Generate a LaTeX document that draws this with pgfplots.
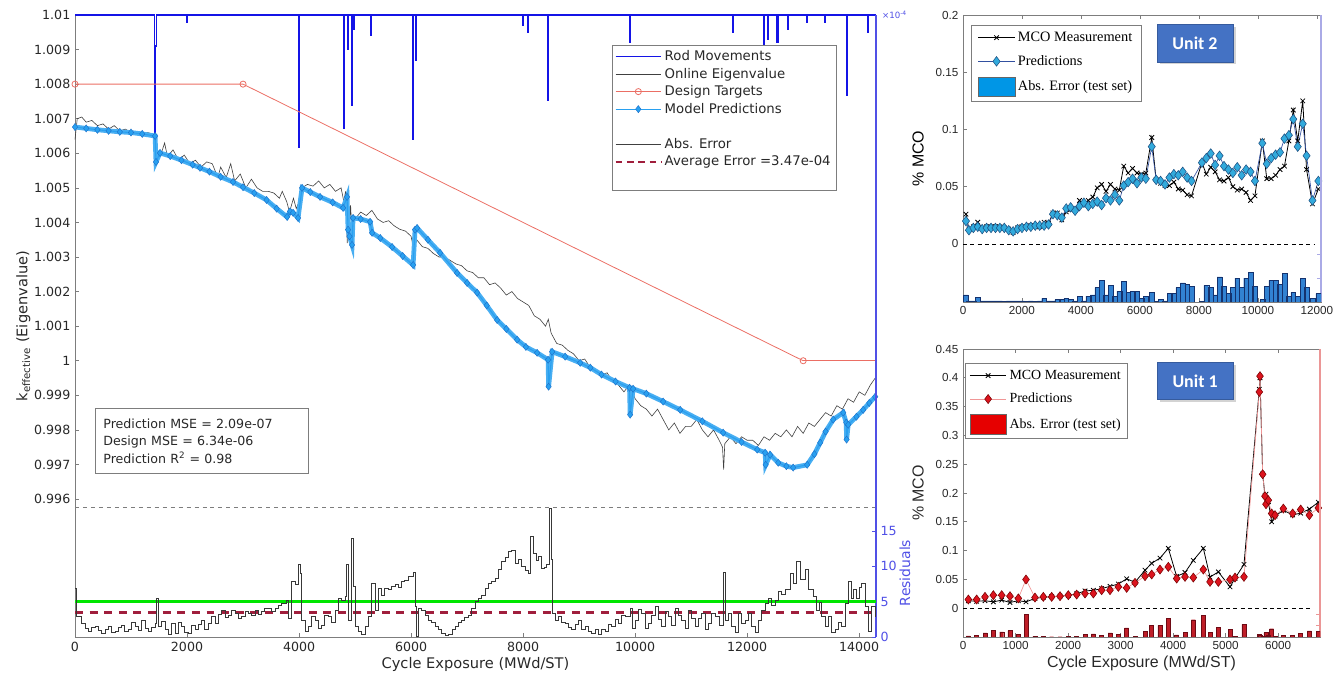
\documentclass[border=0pt]{standalone}
\usepackage{fontspec}
\setmainfont{DejaVu Sans}
\newfontfamily\arialf{Liberation Sans}
\newfontfamily\timesf{Liberation Serif}
\newfontfamily\calf{Carlito}
\usepackage{pgfplots}
\usepackage{pgfplotstable}
\pgfplotsset{compat=1.18}
\usetikzlibrary{shadows}

\definecolor{rodblue}{RGB}{20,20,230}
\definecolor{predblue}{RGB}{40,160,240}
\definecolor{predblueD}{RGB}{30,110,200}
\definecolor{designred}{RGB}{235,110,100}
\definecolor{avgred}{RGB}{160,30,60}
\definecolor{resgreen}{RGB}{0,230,0}
\definecolor{axgray}{RGB}{125,125,125}
\definecolor{tickgray}{RGB}{40,40,40}
\definecolor{resaxis}{RGB}{80,80,230}
\definecolor{unitbox}{RGB}{68,114,196}
\definecolor{u2pred}{RGB}{50,170,220}
\definecolor{u2predD}{RGB}{30,80,130}
\definecolor{u2line}{RGB}{50,80,160}
\definecolor{u2bar}{RGB}{50,130,210}
\definecolor{u2barD}{RGB}{20,50,110}
\definecolor{u2leg}{RGB}{0,150,230}
\definecolor{u2axis}{RGB}{170,170,230}
\definecolor{u1pred}{RGB}{220,20,30}
\definecolor{u1predD}{RGB}{120,0,0}
\definecolor{u1line}{RGB}{240,150,150}
\definecolor{u1bar}{RGB}{190,30,40}
\definecolor{u1barD}{RGB}{110,10,20}
\definecolor{u1leg}{RGB}{230,0,0}
\definecolor{u1axis}{RGB}{235,150,150}

\pgfplotsset{
  bigarea/.style={legend image code/.code={\draw[##1] (0cm,-0.26cm) rectangle (0.97cm,0.26cm);}},
}

\pgfplotstableread{
x m p e
100 0.026 0.020 0.006
200 0.013 0.012 0.001
350 0.015 0.014 0.001
500 0.019 0.015 0.004
650 0.014 0.013 0.001
800 0.015 0.014 0.001
950 0.015 0.014 0.001
1100 0.015 0.014 0.001
1250 0.015 0.014 0.001
1400 0.014 0.014 0.0005
1550 0.013 0.012 0.001
1700 0.010 0.011 0.001
1850 0.014 0.013 0.001
2000 0.015 0.014 0.001
2150 0.015 0.015 0.0005
2300 0.016 0.015 0.001
2450 0.016 0.016 0.0005
2600 0.015 0.016 0.001
2750 0.019 0.016 0.003
2900 0.018 0.017 0.001
3050 0.027 0.026 0.001
3200 0.027 0.025 0.002
3350 0.021 0.023 0.002
3500 0.028 0.031 0.003
3650 0.030 0.032 0.002
3800 0.030 0.029 0.001
3950 0.038 0.033 0.005
4100 0.035 0.036 0.001
4250 0.038 0.033 0.005
4400 0.041 0.035 0.006
4550 0.049 0.037 0.012
4700 0.052 0.034 0.018
4850 0.046 0.040 0.006
5000 0.052 0.038 0.014
5150 0.048 0.043 0.005
5300 0.047 0.038 0.009
5450 0.068 0.051 0.017
5600 0.062 0.054 0.008
5750 0.066 0.057 0.009
5900 0.062 0.053 0.009
6050 0.061 0.058 0.003
6200 0.062 0.057 0.005
6400 0.093 0.085 0.008
6550 0.056 0.056 0.0005
6700 0.053 0.055 0.002
6850 0.051 0.052 0.001
7000 0.051 0.058 0.007
7150 0.054 0.061 0.007
7300 0.048 0.060 0.012
7450 0.047 0.063 0.016
7600 0.043 0.058 0.015
7750 0.042 0.055 0.013
8100 0.071 0.071 0.0005
8250 0.061 0.075 0.014
8400 0.067 0.079 0.012
8550 0.063 0.069 0.006
8700 0.056 0.077 0.021
8850 0.055 0.068 0.013
9000 0.058 0.065 0.007
9150 0.050 0.062 0.012
9300 0.047 0.067 0.020
9450 0.048 0.060 0.012
9600 0.045 0.065 0.020
9750 0.038 0.063 0.025
9900 0.042 0.055 0.013
10150 0.090 0.088 0.002
10300 0.057 0.070 0.013
10450 0.057 0.075 0.018
10600 0.060 0.078 0.018
10750 0.065 0.080 0.015
10900 0.068 0.092 0.024
11050 0.090 0.095 0.005
11200 0.117 0.109 0.008
11350 0.090 0.085 0.005
11520 0.125 0.105 0.020
11650 0.065 0.077 0.012
11850 0.035 0.038 0.003
12050 0.048 0.055 0.007
}\unittwo

\pgfplotstableread{
x m p e
102 0.013 0.0151 0.002
260 0.012 0.0151 0.003
419 0.013 0.0197 0.007
578 0.011 0.0226 0.012
737 0.014 0.0226 0.009
895 0.010 0.0208 0.011
1054 0.013 0.0170 0.004
1200 0.011 0.0498 0.039
1371 0.017 0.0185 0.0015
1530 0.019 0.0197 0.001
1689 0.020 0.0197 0.0005
1848 0.021 0.0208 0.0005
2006 0.022 0.0226 0.001
2165 0.025 0.0237 0.0015
2324 0.030 0.0255 0.0045
2483 0.031 0.0255 0.0055
2641 0.034 0.0313 0.003
2800 0.038 0.0313 0.007
2959 0.042 0.0371 0.005
3117 0.051 0.0353 0.016
3276 0.045 0.0440 0.001
3467 0.066 0.0556 0.010
3594 0.078 0.0585 0.020
3752 0.087 0.0671 0.020
3911 0.104 0.0718 0.032
4070 0.055 0.0515 0.0035
4229 0.062 0.0544 0.0076
4387 0.083 0.0532 0.030
4578 0.104 0.0671 0.037
4705 0.054 0.0457 0.008
4864 0.063 0.0457 0.017
5086 0.037 0.0498 0.013
5181 0.052 0.0532 0.001
5352 0.076 0.0544 0.022
5644 0.380 0.3755 0.0045
5657 0.400 0.4028 0.003
5708 0.233 0.2326 0.0005
5752 0.195 0.1944 0.0006
5771 0.198 0.1805 0.0075
5816 0.185 0.1875 0.0025
5879 0.150 0.1644 0.0144
5943 0.160 0.1615 0.0015
6102 0.170 0.1730 0.003
6279 0.162 0.1644 0.0024
6432 0.165 0.1713 0.0063
6597 0.172 0.1615 0.0105
6768 0.184 0.1741 0.0099
}\unitone

\pgfplotstableread{
x y
0 1.00676
200 1.00672
400 1.00668
600 1.00665
800 1.00662
1000 1.00660
1200 1.00656
1430 1.00650
1446 1.00575
1518 1.00601
1700 1.00592
1900 1.00580
2100 1.00567
2232 1.00558
2400 1.00547
2600 1.00532
2821 1.00517
3000 1.00502
3200 1.00485
3420 1.00465
3600 1.00440
3786 1.00416
3840 1.00432
3893 1.00428
3982 1.00413
4054 1.00500
4200 1.00488
4375 1.00474
4600 1.00458
4786 1.00442
4857 1.00474
4875 1.00379
4900 1.00360
4946 1.00335
4964 1.00413
5100 1.00410
5268 1.00402
5304 1.00370
5450 1.00355
5661 1.00329
5850 1.00303
6036 1.00277
6071 1.00379
6107 1.00384
6300 1.00350
6518 1.00312
6821 1.00254
7000 1.00225
7179 1.00197
7350 1.00160
7536 1.00118
7700 1.00092
7893 1.00061
8050 1.00040
8250 1.00023
8446 1.00003
8455 0.99925
8518 1.00026
8750 1.00012
9018 0.99994
9200 0.99980
9400 0.99960
9650 0.99940
9900 0.99922
9911 0.99844
9964 0.99919
10200 0.99905
10500 0.99882
10804 0.99858
11200 0.99825
11571 0.99792
11900 0.99765
12179 0.99743
12321 0.99734
12330 0.99699
12411 0.99728
12554 0.99705
12700 0.99695
12821 0.99691
13071 0.99699
13200 0.99730
13304 0.99763
13400 0.99795
13536 0.99830
13714 0.99850
13768 0.99821
13775 0.99772
13804 0.99815
13950 0.99838
14071 0.99858
14180 0.99878
14286 0.99896
}\predtab

\begin{document}
\begin{tikzpicture}
\path[use as bounding box] (0,0) rectangle (1005.75bp,511.5bp);

% ================= LEFT MAIN AXIS =================
\begin{axis}[
  at={(56.25bp,33.75bp)}, anchor=south west,
  scale only axis, width=600.75bp, height=466.5bp,
  xmin=0, xmax=14300, ymin=0.99201, ymax=1.01,
  clip=false,
  axis x line*=bottom, axis y line*=left,
  axis line style={axgray, line width=0.6pt},
  tick style={axgray, line width=0.5pt}, tick align=inside, major tick length=3bp,
  xtick={0,2000,4000,6000,8000,10000,12000,14000},
  ytick={0.996,0.997,0.998,0.999,1,1.001,1.002,1.003,1.004,1.005,1.006,1.007,1.008,1.009,1.01},
  scaled x ticks=false, scaled y ticks=false,
  xticklabel style={/pgf/number format/.cd, fixed, set thousands separator={}},
  yticklabel style={/pgf/number format/.cd, fixed, precision=3},
  /pgf/number format/assume math mode=true,
  ticklabel style={font=\fontsize{9.5}{11}\selectfont, text=tickgray},
  xlabel={Cycle Exposure (MWd/ST)},
  ylabel={k\textsubscript{effective} (Eigenvalue)},
  label style={font=\fontsize{11}{13}\selectfont, text=tickgray},
  xlabel style={yshift=2bp},
  ylabel style={yshift=-4bp},
  legend style={at={(0.670,0.952)}, anchor=north west, draw=axgray, fill=white,
    font=\fontsize{10}{11}\selectfont, text=tickgray, inner xsep=2pt, inner ysep=2pt,
    row sep=0pt},
  legend cell align=left,
  legend image code/.code={\draw[mark repeat=2,mark phase=2,#1] plot coordinates {(0cm,0cm) (0.6cm,0cm) (1.2cm,0cm)};},
]
% separator
\addplot[axgray, dashed, line width=0.5pt, forget plot] coordinates {(0,0.99577) (14300,0.99577)};

% Rod movements
\addplot[rodblue, line width=1.1pt] coordinates {
(0,1.01) (1420,1.01) (1420,1.0065) (1435,1.0065) (1435,1.0091) (1455,1.0091) (1455,1.01)
(2000,1.01) (2000,1.0098) (2010,1.0098) (2010,1.01)
(3995,1.01) (3995,1.00616) (4010,1.00616) (4010,1.01)
(4800,1.01) (4800,1.00673) (4815,1.00673) (4815,1.01)
(4860,1.01) (4860,1.0090) (4870,1.0090) (4870,1.01)
(4940,1.01) (4940,1.0074) (4955,1.0074) (4955,1.01)
(4980,1.01) (4980,1.0096) (4990,1.0096) (4990,1.01)
(5280,1.01) (5280,1.0094) (5295,1.0094) (5295,1.01)
(6030,1.01) (6030,1.00641) (6045,1.00641) (6045,1.01)
(6075,1.01) (6075,1.0087) (6085,1.0087) (6085,1.01)
(8000,1.01) (8000,1.0097) (8008,1.0097) (8008,1.01)
(8085,1.01) (8085,1.0095) (8100,1.0095) (8100,1.01)
(8440,1.01) (8440,1.00754) (8455,1.00754) (8455,1.01)
(9905,1.01) (9905,1.0092) (9920,1.0092) (9920,1.01)
(11745,1.01) (11745,1.0095) (11760,1.0095) (11760,1.01)
(12290,1.01) (12290,1.0091) (12300,1.0091) (12300,1.01)
(12360,1.01) (12360,1.0093) (12370,1.0093) (12370,1.01)
(12530,1.01) (12530,1.0092) (12550,1.0092) (12550,1.01)
(12730,1.01) (12730,1.0096) (12740,1.0096) (12740,1.01)
(13065,1.01) (13065,1.0098) (13080,1.0098) (13080,1.01)
(13385,1.01) (13385,1.0098) (13400,1.0098) (13400,1.01)
(13780,1.01) (13780,1.00768) (13795,1.00768) (13795,1.01)
(14155,1.01) (14155,1.0095) (14170,1.0095) (14170,1.01)
(14300,1.01)
};
\addlegendentry{\strut Rod Movements}

% Online eigenvalue
\addplot[black!75, line width=0.45pt] coordinates {
(0,1.0064)(40,1.0070)(120,1.00705)(200,1.0069)(300,1.00695)(400,1.0068)(500,1.00685)(600,1.0067)(700,1.0068)(800,1.00665)(900,1.0067)(1000,1.0066)(1100,1.0066)(1200,1.00655)(1300,1.0066)(1400,1.00655)(1430,1.0065)(1450,1.0062)(1480,1.0060)(1550,1.00605)(1600,1.0063)(1650,1.0059)(1750,1.0061)(1850,1.0058)(1950,1.00595)(2050,1.0057)(2150,1.0058)(2250,1.0056)(2350,1.00575)(2450,1.0057)(2550,1.0053)(2600,1.0056)(2700,1.0053)(2780,1.0057)(2850,1.0052)(2950,1.0054)(3050,1.0050)(3150,1.00525)(3250,1.0050)(3350,1.0049)(3450,1.0049)(3550,1.00485)(3650,1.0047)(3700,1.0049)(3780,1.0046)(3830,1.0043)(3900,1.0047)(3950,1.0044)(4000,1.0046)(4050,1.0050)(4150,1.0051)(4250,1.00505)(4350,1.0052)(4450,1.0050)(4550,1.0051)(4650,1.0049)(4750,1.0050)(4800,1.0046)(4830,1.0049)(4860,1.0034)(4880,1.0047)(4900,1.0038)(4920,1.0045)(4950,1.0035)(4970,1.0042)(5000,1.0041)(5100,1.0043)(5200,1.0042)(5300,1.00435)(5400,1.0041)(5500,1.0040)(5600,1.00405)(5700,1.0039)(5800,1.0038)(5900,1.00375)(6000,1.0036)(6050,1.0032)(6100,1.0035)(6200,1.0033)(6300,1.00325)(6400,1.0031)(6500,1.0030)(6600,1.0030)(6700,1.0029)(6800,1.0028)(6900,1.00275)(7000,1.0026)(7100,1.00255)(7200,1.0024)(7300,1.0024)(7400,1.0022)(7500,1.00225)(7600,1.0021)(7700,1.0019)(7800,1.0020)(7900,1.0018)(8000,1.0017)(8100,1.0016)(8200,1.0013)(8300,1.0012)(8400,1.0010)(8450,1.0012)(8500,1.0008)(8600,1.0005)(8700,1.00045)(8800,1.0003)(8900,1.0002)(9000,1.0000)(9100,1.00005)(9200,0.9998)(9300,0.99975)(9400,0.9996)(9500,0.99965)(9600,0.9994)(9700,0.9993)(9800,0.9991)(9900,0.9993)(10000,0.9989)(10100,0.9987)(10200,0.9986)(10300,0.9984)(10400,0.9986)(10500,0.9983)(10600,0.9980)(10700,0.9982)(10800,0.9979)(10900,0.9981)(11000,0.9981)(11100,0.9983)(11200,0.9980)(11300,0.9978)(11400,0.9980)(11500,0.9977)(11560,0.9975)(11580,0.99685)(11600,0.9976)(11700,0.9978)(11800,0.9976)(11900,0.9978)(12000,0.9977)(12100,0.9977)(12200,0.99755)(12300,0.9978)(12400,0.9977)(12500,0.9979)(12600,0.9978)(12700,0.9980)(12800,0.9978)(12900,0.9981)(13000,0.9979)(13100,0.9982)(13200,0.9981)(13300,0.9983)(13400,0.9985)(13500,0.9984)(13600,0.9987)(13700,0.9986)(13800,0.9989)(13900,0.9988)(14000,0.9991)(14100,0.9990)(14200,0.9993)(14286,0.9995)
};
\addlegendentry{\strut Online Eigenvalue}

% Design targets
\addplot[designred, line width=0.6pt, mark=o, mark size=2.3bp, mark options={line width=0.6pt}] coordinates {(0,1.008) (3000,1.008) (13000,1.0)};
\addlegendentry{\strut Design Targets}
\addplot[designred, line width=0.6pt, forget plot] coordinates {(13000,1.0) (14300,1.0)};

% Model predictions: band + markers
\addplot[predblue!85, line width=3.6pt, forget plot] table[x=x,y=y] {\predtab};
\addplot[predblue, line width=0.8pt, mark=diamond*, mark size=2.7bp, mark options={fill=predblue, draw=predblueD, line width=0.3pt}] table[x=x,y=y] {\predtab};
\addlegendentry{\strut Model Predictions}

\addlegendimage{empty legend}\addlegendentry{\strut}
\addlegendimage{black!75, line width=0.6pt}\addlegendentry{\strut Abs. Error}
\addlegendimage{avgred, line width=1.6pt, dash pattern=on 5pt off 3.5pt}\addlegendentry{\strut Average Error =3.47e-04}
\addlegendimage{empty legend}\addlegendentry{\strut}

\node[draw=axgray, fill=white, anchor=north west, align=left, line width=0.6pt,
  font=\fontsize{9.5}{13}\selectfont, text=tickgray, text width=148bp, inner xsep=6bp, inner ysep=4bp,
  minimum height=49bp] at (rel axis cs:0.025,0.368)
  {Prediction MSE = 2.09e-07\\Design MSE = 6.34e-06\\Prediction R\textsuperscript{2} = 0.98};
\end{axis}

% ================= RESIDUAL OVERLAY AXIS =================
\begin{axis}[
  at={(56.25bp,33.75bp)}, anchor=south west,
  scale only axis, width=600.75bp, height=466.5bp,
  xmin=0, xmax=14300, ymin=0, ymax=88,
  clip=false,
  axis x line=none, axis y line*=right,
  axis line style={resaxis, line width=0.8pt},
  tick style={resaxis, line width=0.5pt}, tick align=inside, major tick length=3bp,
  ytick={0,5,10,15},
  /pgf/number format/assume math mode=true,
  yticklabel style={font=\fontsize{9.5}{11}\selectfont, text=resaxis},
]
\addplot[resgreen, line width=2.1pt] coordinates {(0,5) (14300,5)};
\addplot[avgred, line width=1.6pt, dash pattern=on 6pt off 5pt] coordinates {(0,3.47) (14300,3.47)};
\addplot[const plot, black!78, line width=0.7pt] coordinates {
(0,6.9)(30,2.9)(119,1.9)(180,1.2)(238,0.75)(300,1.3)(357,1.5)(420,0.9)(476,0.5)(540,1.1)(595,1.5)(650,0.6)(714,0.75)(770,1.4)(833,1.7)(890,0.8)(952,1.0)(1010,2.0)(1071,1.5)(1130,0.9)(1190,2.4)(1250,1.2)(1310,0.75)(1370,1.4)(1429,1.9)(1458,5.5)(1488,1.5)(1550,2.2)(1607,1.0)(1660,0.4)(1726,1.9)(1786,0.5)(1840,2.0)(1905,1.5)(1960,0.7)(2024,0.5)(2080,1.6)(2143,1.0)(2200,1.8)(2262,2.4)(2320,1.0)(2381,1.9)(2440,2.9)(2500,1.9)(2560,3.2)(2619,3.8)(2680,2.7)(2738,3.1)(2800,3.7)(2857,3.3)(2920,2.6)(2976,2.9)(3040,3.6)(3095,3.3)(3150,3.0)(3214,3.8)(3270,3.2)(3333,3.6)(3390,4.0)(3452,4.1)(3510,3.6)(3571,4.1)(3630,4.4)(3690,4.8)(3780,5.2)(3810,2.6)(3869,7.8)(3929,7.4)(3988,10.2)(4018,9.0)(4048,2.4)(4110,0.8)(4167,1.5)(4230,2.9)(4286,2.4)(4340,1.2)(4405,1.7)(4460,3.0)(4524,2.9)(4580,2.0)(4643,3.8)(4702,5.5)(4762,5.2)(4821,5.7)(4851,10.2)(4881,2.4)(4929,14.0)(4970,7.1)(5000,1.5)(5060,0.8)(5119,0.3)(5180,1.5)(5238,2.9)(5298,7.6)(5357,3.8)(5417,6.9)(5476,5.9)(5530,6.9)(5595,6.7)(5650,7.2)(5714,7.4)(5770,7.0)(5833,7.8)(5890,8.0)(5952,8.5)(6042,9.2)(6071,4.3)(6101,0.05)(6131,4.1)(6190,3.8)(6250,3.0)(6310,2.4)(6370,2.0)(6429,1.5)(6490,1.0)(6548,0.5)(6610,0.2)(6667,0.3)(6730,1.0)(6786,1.5)(6850,2.0)(6905,2.4)(6960,2.8)(7024,3.1)(7080,4.0)(7143,5.0)(7200,5.5)(7262,5.9)(7320,6.9)(7381,7.6)(7440,7.9)(7500,8.3)(7560,9.5)(7619,10.7)(7680,11.2)(7738,12.1)(7798,12.3)(7857,10.4)(7920,10.9)(7976,10.0)(8040,9.4)(8095,9.0)(8125,14.2)(8185,11.8)(8230,10.8)(8274,11.4)(8333,9.7)(8380,9.9)(8423,10.2)(8464,18.2)(8500,10.9)(8524,3.3)(8580,2.4)(8631,2.9)(8690,2.0)(8750,1.9)(8810,1.4)(8869,1.0)(8930,1.8)(8988,2.4)(9050,1.0)(9107,1.5)(9170,0.8)(9226,0.5)(9290,1.0)(9345,0.3)(9400,1.0)(9464,0.75)(9520,1.8)(9583,1.5)(9640,2.5)(9702,1.9)(9760,3.0)(9821,2.9)(9911,4.1)(9960,1.2)(10000,2.4)(10060,3.9)(10119,3.3)(10180,1.2)(10238,1.9)(10300,3.0)(10357,4.3)(10420,2.5)(10476,1.5)(10540,3.6)(10595,2.9)(10650,1.6)(10714,4.1)(10770,3.0)(10833,2.4)(10890,1.2)(10952,3.8)(11010,2.6)(11071,1.5)(11130,2.6)(11190,3.3)(11250,1.0)(11309,1.9)(11370,3.4)(11428,2.9)(11500,1.6)(11577,9.2)(11607,2.4)(11670,3.3)(11726,1.5)(11790,0.6)(11845,3.3)(11900,1.9)(11964,2.4)(12020,3.4)(12083,1.5)(12140,0.6)(12202,2.4)(12260,3.8)(12321,4.8)(12381,5.5)(12440,4.4)(12500,5.2)(12559,6.4)(12620,6.0)(12678,6.7)(12768,9.0)(12827,7.6)(12887,10.7)(12946,8.1)(13036,9.5)(13095,6.7)(13184,5.7)(13244,3.8)(13290,4.9)(13333,2.9)(13393,1.5)(13452,2.9)(13510,0.6)(13571,1.0)(13630,2.0)(13690,1.5)(13750,4.8)(13809,7.8)(13860,5.5)(13899,6.7)(13958,5.5)(14000,7.0)(14047,7.6)(14107,4.3)(14166,0.75)(14226,4.3)(14285,2.9)(14300,2.9)
};
\node[anchor=west, text=resaxis, font=\fontsize{6.5}{7}\selectfont, xshift=1bp] at (rel axis cs:1,1) {×10\textsuperscript{-4}};
\node[rotate=90, text=resaxis, font=\fontsize{10.5}{12}\selectfont] at ([xshift=21.75bp]rel axis cs:1,0.103) {Residuals};
\end{axis}

% ================= UNIT 2 =================
\begin{axis}[
  at={(722.25bp,285bp)}, anchor=south west,
  scale only axis, width=268.5bp, height=215.25bp,
  xmin=0, xmax=12140, ymin=-0.0507, ymax=0.2,
  axis line style={axgray, line width=0.6pt},
  tick style={axgray, line width=0.5pt}, tick align=inside, major tick length=3bp,
  xtick={0,2000,4000,6000,8000,10000,12000}, ytick={0,0.05,0.1,0.15,0.2},
  ytick pos=left,
  scaled x ticks=false, scaled y ticks=false,
  xticklabel style={/pgf/number format/.cd, fixed, set thousands separator={}},
  yticklabel style={/pgf/number format/.cd, fixed, precision=2},
  /pgf/number format/assume math mode=true,
  ticklabel style={font=\arialf\fontsize{8.8}{10}\selectfont, text=tickgray},
  ylabel={\% MCO},
  ylabel style={font=\arialf\fontsize{12}{14}\selectfont, text=black, yshift=2bp},
  legend style={at={(0.022,0.965)}, anchor=north west, draw=axgray, fill=white,
    font=\timesf\fontsize{10.8}{12}\selectfont, inner xsep=5pt, inner ysep=3pt, row sep=5pt},
  legend cell align=left,
  legend image code/.code={\draw[mark repeat=2,mark phase=2,#1] plot coordinates {(0cm,0cm) (0.485cm,0cm) (0.97cm,0cm)};},
]
\addplot[black, dashed, line width=0.6pt, dash pattern=on 3pt off 2.5pt, forget plot] coordinates {(0,0) (11950,0)};
\addplot[black, line width=0.6pt, mark=x, mark size=2.4bp, mark options={line width=0.6pt}] table[x=x,y=m] {\unittwo};
\addlegendentry{MCO Measurement}
\addplot[u2line, line width=0.5pt, mark=diamond*, mark size=3.6bp, mark options={fill=u2pred, draw=u2predD, line width=0.4pt}] table[x=x,y=p] {\unittwo};
\addlegendentry{Predictions}
\addlegendimage{bigarea, fill=u2leg, draw=black!60}
\addlegendentry{Abs. Error (test set)}
\node[fill=unitbox, draw=unitbox!80!black, text=white, font=\calf\bfseries\fontsize{13.5}{15}\selectfont,
  minimum width=57bp, minimum height=28bp, drop shadow={opacity=0.35, shadow xshift=2pt, shadow yshift=-2pt}]
  at (rel axis cs:0.648,0.902) {Unit 2};
\end{axis}
\begin{axis}[
  at={(722.25bp,285bp)}, anchor=south west,
  scale only axis, width=268.5bp, height=215.25bp,
  xmin=0, xmax=12140, ymin=0, ymax=0.24,
  axis x line=none, axis y line*=right,
  axis line style={u2axis, line width=0.8pt},
  tick style={u2axis, line width=0.5pt}, tick align=inside, major tick length=3bp,
  ytick={0.02,0.04}, yticklabels={},
]
\addplot[ybar, bar width=3.6bp, fill=u2bar, draw=u2barD, line width=0.3pt] table[x=x,y=e] {\unittwo};
\end{axis}

% ================= UNIT 1 =================
\begin{axis}[
  at={(722.25bp,33.75bp)}, anchor=south west,
  scale only axis, width=267.75bp, height=216bp,
  xmin=0, xmax=6800, ymin=-0.05, ymax=0.45,
  axis line style={axgray, line width=0.6pt},
  tick style={axgray, line width=0.5pt}, tick align=inside, major tick length=3bp,
  xtick={0,1000,2000,3000,4000,5000,6000}, ytick={0,0.05,0.1,0.15,0.2,0.25,0.3,0.35,0.4,0.45},
  ytick pos=left,
  scaled x ticks=false, scaled y ticks=false,
  xticklabel style={/pgf/number format/.cd, fixed, set thousands separator={}},
  yticklabel style={/pgf/number format/.cd, fixed, precision=2},
  /pgf/number format/assume math mode=true,
  ticklabel style={font=\arialf\fontsize{8.8}{10}\selectfont, text=tickgray},
  xlabel={Cycle Exposure (MWd/ST)},
  ylabel={\% MCO},
  label style={font=\arialf\fontsize{12}{14}\selectfont, text=tickgray},
  ylabel style={yshift=2bp},
  xlabel style={yshift=2bp},
  legend style={at={(0.006,0.951)}, anchor=north west, draw=axgray, fill=white,
    font=\timesf\fontsize{10.5}{12}\selectfont, inner xsep=3pt, inner ysep=3pt, row sep=5pt},
  legend cell align=left,
  legend image code/.code={\draw[mark repeat=2,mark phase=2,#1] plot coordinates {(0cm,0cm) (0.485cm,0cm) (0.97cm,0cm)};},
]
\addplot[black, dashed, line width=0.6pt, dash pattern=on 3pt off 2.5pt, forget plot] coordinates {(0,0) (6650,0)};
\addplot[black, line width=0.6pt, mark=x, mark size=2.4bp, mark options={line width=0.6pt}] table[x=x,y=m] {\unitone};
\addlegendentry{MCO Measurement}
\addplot[u1line, line width=0.5pt, mark=diamond*, mark size=3.4bp, mark options={fill=u1pred, draw=u1predD, line width=0.4pt}] table[x=x,y=p] {\unitone};
\addlegendentry{Predictions}
\addlegendimage{bigarea, fill=u1leg, draw=black!60}
\addlegendentry{Abs. Error (test set)}
\node[fill=unitbox, draw=unitbox!80!black, text=white, font=\calf\bfseries\fontsize{13.5}{15}\selectfont,
  minimum width=57bp, minimum height=28bp, drop shadow={opacity=0.35, shadow xshift=2pt, shadow yshift=-2pt}]
  at (rel axis cs:0.65,0.889) {Unit 1};
\end{axis}
\begin{axis}[
  at={(722.25bp,33.75bp)}, anchor=south west,
  scale only axis, width=267.75bp, height=216bp,
  xmin=0, xmax=6800, ymin=0, ymax=0.5,
  axis x line=none, axis y line*=right,
  axis line style={u1axis, line width=0.8pt},
  tick style={u1axis, line width=0.5pt}, tick align=inside, major tick length=3bp,
  ytick={0.02,0.04}, yticklabels={},
]
\addplot[ybar, bar width=3bp, fill=u1bar, draw=u1barD, line width=0.3pt] table[x=x,y=e] {\unitone};
\end{axis}
\end{tikzpicture}
\end{document}
